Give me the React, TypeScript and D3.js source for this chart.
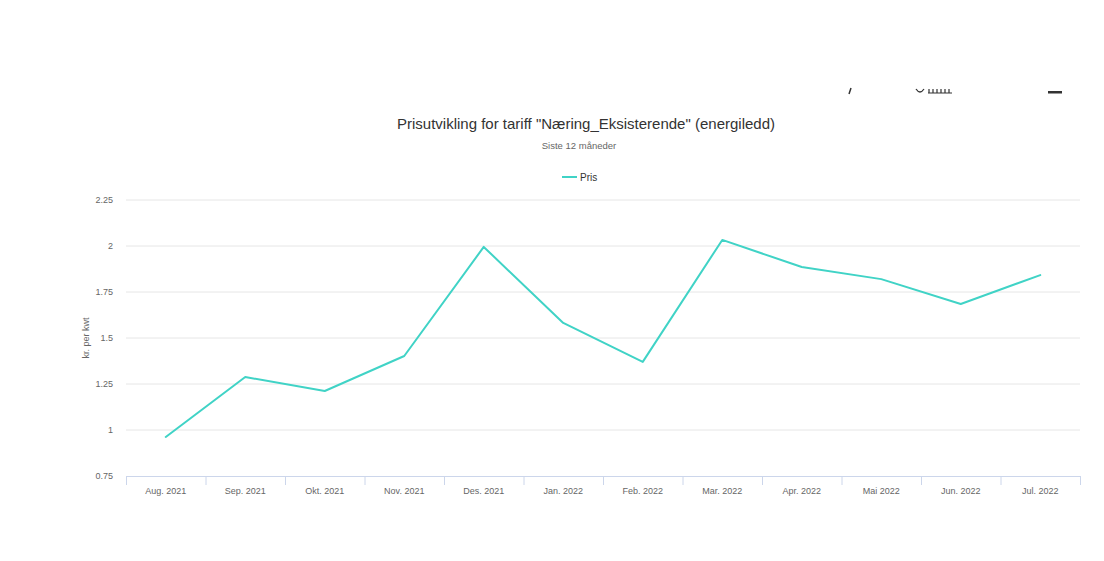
import React from "react";
import * as d3 from "d3";

const categories = ["Aug. 2021", "Sep. 2021", "Okt. 2021", "Nov. 2021", "Des. 2021", "Jan. 2022", "Feb. 2022", "Mar. 2022", "Apr. 2022", "Mai 2022", "Jun. 2022", "Jul. 2022"];
const prices = [0.962, 1.288, 1.212, 1.402, 1.995, 1.582, 1.37, 2.033, 1.886, 1.82, 1.685, 1.842];
const yTicks = [0.75, 1, 1.25, 1.5, 1.75, 2, 2.25];
const yTickLabels = ["0.75", "1", "1.25", "1.5", "1.75", "2", "2.25"];

const W = 1104, H = 561;
const left = 126, right = 1080, top = 200, bottom = 476;
const FONT = "'Liberation Sans', Arial, sans-serif";

export default function App() {
  const x = d3.scaleBand<string>().domain(categories).range([left, right]);
  const y = d3.scaleLinear().domain([0.75, 2.25]).range([bottom, top]);
  const line = d3.line<number>()
    .x((_, i) => (x(categories[i]) as number) + x.bandwidth() / 2)
    .y(d => y(d));
  const bounds = categories.map(c => x(c) as number).concat([right]);
  return (
    <svg width={W} height={H} style={{ position: "absolute", left: 0, top: 0, background: "#fff" }} fontFamily={FONT}>
      <rect width={W} height={H} fill="#fff" />
      {/* clipped fragments top right */}
      <path d="M851,88 L849,94" stroke="#333" strokeWidth={1.5} />
      <path d="M916,89 Q920,95 924,89" stroke="#333" strokeWidth={1.3} fill="none" />
      <path d="M928,93 L952,93 M929,89 L929,93 M933,89 L933,93 M937,89 L937,93 M941,89 L941,93 M945,89 L945,93 M949,89 L949,93" stroke="#333" strokeWidth={1.2} />
      <rect x={1048} y={91} width={14} height={2.5} fill="#333" />

      <text x={586} y={129} textAnchor="middle" fontSize={15} fill="#333">Prisutvikling for tariff "Næring_Eksisterende" (energiledd)</text>
      <text x={579} y={149} textAnchor="middle" fontSize={9.5} fill="#666">Siste 12 måneder</text>
      <line x1={562} x2={577} y1={177} y2={177} stroke="#40d3c6" strokeWidth={2} />
      <text x={580} y={180.5} fontSize={10} fill="#333">Pris</text>

      {yTicks.map((t, i) => (
        <g key={t}>
          {i > 0 && <line x1={left} x2={right} y1={y(t)} y2={y(t)} stroke="#e6e6e6" strokeWidth={1} />}
          <text x={113} y={y(t) + 3} textAnchor="end" fontSize={9} fill="#666">{yTickLabels[i]}</text>
        </g>
      ))}
      <text transform={`translate(89,${(top + bottom) / 2}) rotate(-90)`} textAnchor="middle" fontSize={9} fill="#666">kr. per kwt</text>

      <line x1={left} x2={right} y1={bottom + 0.5} y2={bottom + 0.5} stroke="#ccd6eb" strokeWidth={1} />
      {bounds.map((b, i) => (
        <line key={i} x1={b + 0.5} x2={b + 0.5} y1={bottom} y2={bottom + 9} stroke="#ccd6eb" strokeWidth={1} />
      ))}
      {categories.map(c => (
        <text key={c} x={(x(c) as number) + x.bandwidth() / 2} y={494} textAnchor="middle" fontSize={9} fill="#666">{c}</text>
      ))}

      <path d={line(prices) ?? ""} fill="none" stroke="#40d3c6" strokeWidth={2} strokeLinejoin="round" strokeLinecap="round" />
    </svg>
  );
}
